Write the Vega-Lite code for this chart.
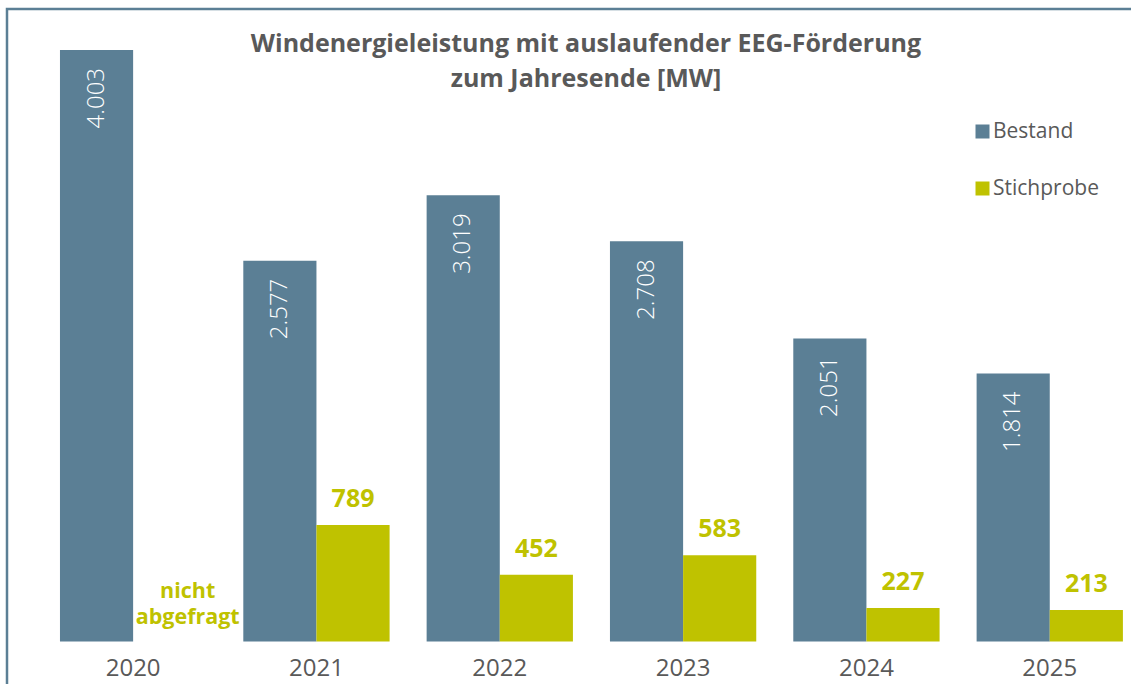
{
  "$schema": "https://vega.github.io/schema/vega-lite/v6.json",
  "autosize": "none",
  "width": 1126,
  "height": 677,
  "padding": {"left": 7, "top": 9, "right": -2, "bottom": -2},
  "background": "white",
  "config": {
    "font": "Open Sans",
    "view": {"stroke": "#5B7F95", "strokeWidth": 2.5},
    "locale": {"number": {"decimal": ",", "thousands": ".", "grouping": [3], "currency": ["", " €"]}}
  },
  "title": {
    "text": ["Windenergieleistung mit auslaufender EEG-Förderung", "zum Jahresende [MW]"],
    "font": "Open Sans",
    "fontSize": 25,
    "fontWeight": "bold",
    "color": "#595959",
    "anchor": "middle",
    "frame": "group",
    "dx": 16,
    "offset": -83,
    "lineHeight": 35
  },
  "datasets": {
    "notes": [
      {"year": "2020", "series": "Stichprobe", "value": 0, "note": "nicht\nabgefragt"}
    ]
  },
  "data": {
    "values": [
      {"year": "2020", "series": "Bestand", "value": 4003},
      {"year": "2020", "series": "Stichprobe", "value": null},
      {"year": "2021", "series": "Bestand", "value": 2577},
      {"year": "2021", "series": "Stichprobe", "value": 789},
      {"year": "2022", "series": "Bestand", "value": 3019},
      {"year": "2022", "series": "Stichprobe", "value": 452},
      {"year": "2023", "series": "Bestand", "value": 2708},
      {"year": "2023", "series": "Stichprobe", "value": 583},
      {"year": "2024", "series": "Bestand", "value": 2051},
      {"year": "2024", "series": "Stichprobe", "value": 227},
      {"year": "2025", "series": "Bestand", "value": 1814},
      {"year": "2025", "series": "Stichprobe", "value": 213}
    ]
  },
  "encoding": {
    "x": {
      "field": "year",
      "type": "nominal",
      "sort": null,
      "scale": {"type": "band", "domain": ["2020", "2021", "2022", "2023", "2024", "2025"], "paddingInner": 0.202, "paddingOuter": 0.172, "align": 0.84},
      "axis": {
        "title": null,
        "orient": "bottom",
        "offset": -44,
        "domain": false,
        "ticks": false,
        "labelAngle": 0,
        "labelFont": "Open Sans",
        "labelFontSize": 24,
        "labelColor": "#595959",
        "labelPadding": 14,
        "labelBaseline": "top"
      }
    },
    "xOffset": {
      "field": "series",
      "type": "nominal",
      "scale": {"domain": ["Bestand", "Stichprobe"], "paddingInner": 0, "paddingOuter": 0}
    },
    "y": {
      "field": "value",
      "type": "quantitative",
      "scale": {"domain": [-301, 4280], "zero": false, "nice": false},
      "axis": null
    }
  },
  "layer": [
    {
      "mark": {"type": "bar"},
      "encoding": {
        "color": {
          "field": "series",
          "type": "nominal",
          "scale": {"domain": ["Bestand", "Stichprobe"], "range": ["#5B7F95", "#BFC200"]},
          "legend": {
            "title": null,
            "orient": "none",
            "legendX": 965,
            "legendY": 112,
            "symbolType": "square",
            "symbolSize": 196,
            "symbolStrokeWidth": 0,
            "symbolOpacity": 1,
            "labelFont": "Open Sans",
            "labelFontSize": 21,
            "labelColor": "#595959",
            "labelOffset": 0,
            "rowPadding": 35
          }
        }
      }
    },
    {
      "transform": [{"filter": "datum.series === 'Bestand'"}],
      "mark": {"type": "text", "angle": -90, "align": "right", "baseline": "middle", "dx": -18, "color": "white", "font": "Open Sans", "fontSize": 24, "fontWeight": 300},
      "encoding": {"text": {"field": "value", "type": "quantitative", "format": ","}}
    },
    {
      "transform": [{"filter": "datum.series === 'Stichprobe' && datum.value != null"}],
      "mark": {"type": "text", "align": "center", "baseline": "alphabetic", "dy": -18, "color": "#BFC200", "font": "Open Sans", "fontSize": 25, "fontWeight": "bold"},
      "encoding": {"text": {"field": "value", "type": "quantitative", "format": ","}}
    },
    {
      "data": {"name": "notes"},
      "mark": {"type": "text", "align": "center", "baseline": "alphabetic", "dx": 18, "dy": -44, "lineBreak": "\n", "lineHeight": 26, "color": "#BFC200", "font": "Open Sans", "fontSize": 21.5, "fontWeight": "bold"},
      "encoding": {
        "text": {"field": "note", "type": "nominal"}
      }
    }
  ]
}
